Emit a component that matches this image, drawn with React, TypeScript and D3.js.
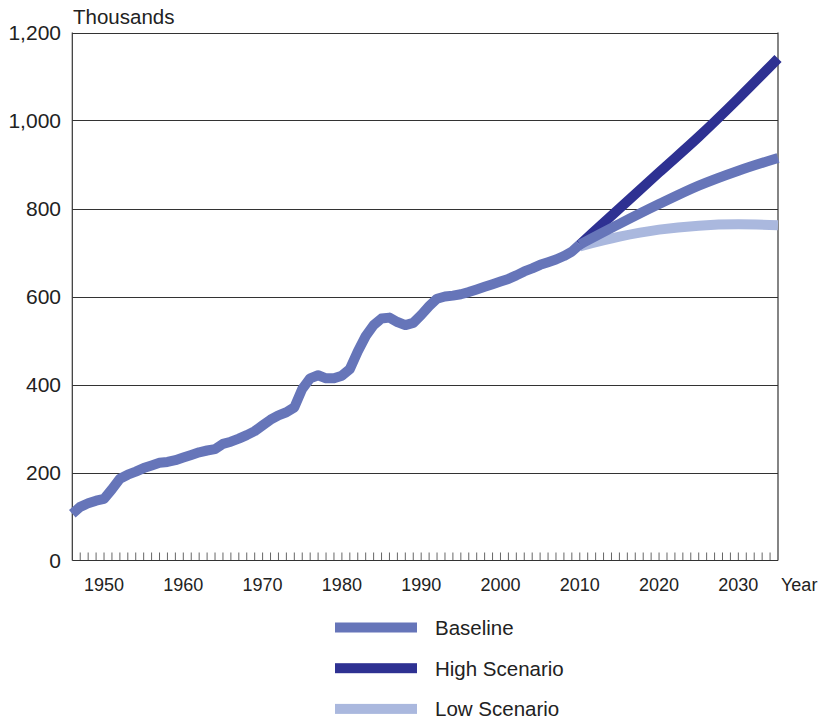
import * as d3 from "d3";

// historical series, 1946-2010 (thousands)
const histYears = d3.range(1946, 2011);
const histValues = [
  106, 122, 130, 136, 140, 162, 186, 195, 202, 210,
  216, 222, 224, 228, 234, 240, 246, 250, 253, 265,
  270, 277, 285, 294, 307, 320, 330, 337, 348, 390,
  414, 421, 414, 414, 420, 435, 475, 510, 535, 550,
  552, 542, 535, 540, 558, 578, 595, 600, 602, 605,
  610, 616, 622, 628, 634, 640, 648, 657, 664, 672,
  678, 684, 692, 702, 718,
];

// projections
const projYears = [2010, 2015, 2020, 2025, 2030, 2035];
const baselineProj = [718, 765, 810, 852, 886, 915];
const highProj = [718, 800, 882, 963, 1050, 1141];
const lowProj = [714, 736, 752, 761, 764, 762];

const yTicks = [0, 200, 400, 600, 800, 1000, 1200];
const xLabels = [1950, 1960, 1970, 1980, 1990, 2000, 2010, 2020, 2030];

const legendItems = [
  { label: "Baseline", color: "#6675b9" },
  { label: "High Scenario", color: "#2e3192" },
  { label: "Low Scenario", color: "#aab8de" },
];

const W = 821;
const H = 719;
const left = 72.3;
const right = 778;
const top = 32.5;
const bottom = 560.5;
const font = "'Liberation Sans', Arial, sans-serif";

export default function App() {
  const x = d3.scaleLinear().domain([1946, 2035]).range([left, right]);
  const y = d3.scaleLinear().domain([0, 1200]).range([bottom, top]);

  const histLine = d3
    .line<number>()
    .x((_, i) => x(histYears[i]))
    .y((d) => y(d));
  const projLine = d3
    .line<number>()
    .x((_, i) => x(projYears[i]))
    .y((d) => y(d))
    .curve(d3.curveMonotoneX);

  const tickYears = d3.range(1947, 2035);

  return (
    <svg width={W} height={H} style={{ position: "absolute", left: 0, top: 0 }}>
      <rect width={W} height={H} fill="#fff" />
      {/* gridlines */}
      {yTicks.slice(1).map((t) => (
        <line
          key={t}
          x1={left}
          x2={right}
          y1={Math.round(y(t)) + 0.5}
          y2={Math.round(y(t)) + 0.5}
          stroke="#333"
          strokeWidth={1}
        />
      ))}
      {/* year ticks */}
      {tickYears.map((yr) => (
        <line
          key={yr}
          x1={x(yr)}
          x2={x(yr)}
          y1={bottom}
          y2={bottom - 8}
          stroke="#666"
          strokeWidth={1}
        />
      ))}
      {/* axes */}
      <line x1={left} x2={left} y1={top} y2={bottom} stroke="#333" strokeWidth={1.2} />
      <line x1={right} x2={right} y1={top} y2={bottom} stroke="#333" strokeWidth={1.2} />
      <line x1={left} x2={right} y1={bottom} y2={bottom} stroke="#333" strokeWidth={1.2} />

      {/* series */}
      <g fill="none" strokeLinejoin="round" strokeLinecap="butt" strokeWidth={10}>
        <path d={projLine(lowProj) ?? ""} stroke="#aab8de" />
        <path d={projLine(highProj) ?? ""} stroke="#2e3192" />
        <path d={projLine(baselineProj) ?? ""} stroke="#6675b9" />
        <path d={histLine(histValues) ?? ""} stroke="#6675b9" />
      </g>

      {/* y labels */}
      {yTicks.map((t) => (
        <text
          key={t}
          x={61}
          y={y(t)}
          dy="0.36em"
          textAnchor="end"
          fontFamily={font}
          fontSize={21}
          fill="#222"
        >
          {d3.format(",")(t)}
        </text>
      ))}
      <text x={73} y={23.5} fontFamily={font} fontSize={20.5} fill="#222">
        Thousands
      </text>

      {/* x labels */}
      {xLabels.map((yr) => (
        <text
          key={yr}
          x={x(yr)}
          y={590.5}
          textAnchor="middle"
          fontFamily={font}
          fontSize={18}
          fill="#222"
        >
          {yr}
        </text>
      ))}
      <text x={781} y={590.5} fontFamily={font} fontSize={18} fill="#222">
        Year
      </text>

      {/* legend */}
      {legendItems.map((it, i) => {
        const cy = 627.5 + i * 40.7;
        return (
          <g key={it.label}>
            <rect x={335} y={cy - 5} width={82} height={10} fill={it.color} />
            <text
              x={435}
              y={cy}
              dy="0.36em"
              fontFamily={font}
              fontSize={20.5}
              fill="#222"
            >
              {it.label}
            </text>
          </g>
        );
      })}
    </svg>
  );
}
